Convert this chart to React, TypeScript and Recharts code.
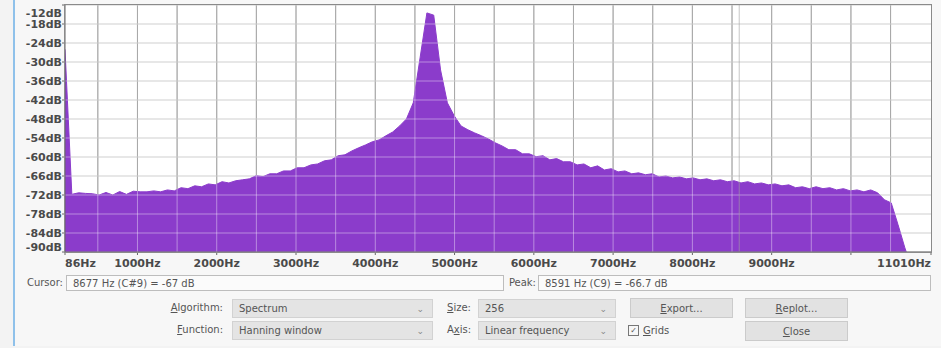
import React from 'react';
import { AreaChart, Area, XAxis, YAxis, CartesianGrid, ReferenceLine } from 'recharts';

// FFT size 256 at 22050 Hz -> one bin every 86.13 Hz
const binHz = 22050 / 256;

// level (dB) of bins 1..127
const levels = [
  -26.0, -71.8, -71.3, -71.5, -71.6, -72.0, -71.2, -72.0, -70.9, -71.8,
  -70.8, -71.0, -71.0, -70.7, -71.0, -70.4, -70.7, -69.7, -70.0, -69.1,
  -69.4, -68.5, -68.8, -67.8, -68.2, -67.5, -67.2, -66.9, -65.9, -66.2,
  -65.3, -65.3, -64.4, -64.4, -63.4, -63.4, -62.5, -62.2, -61.2, -60.9,
  -59.6, -59.3, -58.1, -57.1, -56.2, -55.2, -54.6, -53.3, -52.1, -50.2,
  -48.0, -42.9, -28.7, -14.5, -15.2, -32.5, -42.9, -47.0, -50.2, -51.4,
  -52.4, -53.3, -54.3, -55.5, -56.5, -57.7, -57.7, -59.0, -59.0, -59.9,
  -59.6, -60.9, -60.5, -61.5, -61.5, -62.5, -62.2, -63.4, -62.8, -64.1,
  -63.7, -64.7, -64.4, -65.3, -65.0, -65.6, -65.3, -66.3, -66.0, -66.6,
  -66.3, -66.9, -66.6, -67.2, -66.9, -67.5, -67.2, -67.8, -67.5, -68.2,
  -67.8, -68.5, -68.2, -68.8, -68.5, -69.1, -68.8, -69.7, -69.4, -70.0,
  -69.4, -70.0, -69.7, -70.4, -70.0, -70.7, -70.4, -71.0, -70.4, -71.3,
  -73.5, -74.5, -81.4, -88.7, -95.0, -98.0, -99.0,
];

const xTicks = [86, 1000, 2000, 3000, 4000, 5000, 6000, 7000, 8000, 9000, 10000, 11010];
const xTickLabels = ['86Hz', '1000Hz', '2000Hz', '3000Hz', '4000Hz', '5000Hz', '6000Hz', '7000Hz', '8000Hz', '9000Hz', '', '11010Hz'];
const yTicks = [-90, -84, -78, -72, -66, -60, -54, -48, -42, -36, -30, -24, -18, -12];
const gridHz = [500, 1000, 1500, 2000, 2500, 3000, 3500, 4000, 4500, 5000, 5500, 6000, 6500, 7000, 7500, 8000, 8500, 9000, 9500, 10000, 10500];
const peakHz = 8591;

const data = levels.map((db, i) => ({ hz: (i + 1) * binHz, db }));

const PURPLE = '#8b3ccb';
const axisFont = { fontFamily: 'DejaVu Sans', fontSize: 11, fontWeight: 'bold' as const, fill: '#4a4a4a' };
const uiFont = "'DejaVu Sans', sans-serif";

const XTick = (props: any) => {
  const { x, y, payload } = props;
  const idx = xTicks.indexOf(payload.value);
  const label = xTickLabels[idx] ?? '';
  let anchor: 'start' | 'middle' | 'end' = 'middle';
  if (idx === 0) anchor = 'start';
  if (idx === xTicks.length - 1) anchor = 'end';
  return (
    <text x={x} y={y + 10} textAnchor={anchor} {...axisFont}>
      {label}
    </text>
  );
};

const YTick = (props: any) => {
  const { x, y, payload } = props;
  const cy = Math.min(Math.max(y, 12.5), 247);
  return (
    <text x={x} y={cy + 4} textAnchor="end" {...axisFont}>
      {payload.value}dB
    </text>
  );
};

const Box = ({ left, top, width, height, children, style }: any) => (
  <div
    style={{
      position: 'absolute', left, top, width, height, boxSizing: 'border-box',
      fontFamily: uiFont, fontSize: 10, color: '#555', display: 'flex', alignItems: 'center',
      ...style,
    }}
  >
    {children}
  </div>
);

const Label = ({ right, top, children }: any) => (
  <div
    style={{
      position: 'absolute', right: 941 - right, top, fontFamily: uiFont, fontSize: 10,
      color: '#555', whiteSpace: 'nowrap',
    }}
  >
    {children}
  </div>
);

const Dropdown = ({ left, top, width, text }: any) => (
  <Box
    left={left} top={top} width={width} height={19}
    style={{ background: '#e4e4e4', border: '1px solid #d2d2d2', paddingLeft: 6, justifyContent: 'space-between', paddingRight: 8 }}
  >
    <span>{text}</span>
    <span style={{ color: '#888', fontSize: 9 }}>⌄</span>
  </Box>
);

const Button = ({ left, top, children }: any) => (
  <Box
    left={left} top={top} width={103} height={20}
    style={{ background: '#e2e2e2', border: '1px solid #cbcbcb', justifyContent: 'center' }}
  >
    {children}
  </Box>
);

const U = ({ children }: any) => <span style={{ textDecoration: 'underline' }}>{children}</span>;

export default function App() {
  return (
    <div style={{ position: 'absolute', left: 0, top: 0, width: 941, height: 348, background: '#f3f3f3', overflow: 'hidden' }}>
      <div style={{ position: 'absolute', left: 13, top: 0, width: 2, height: 346, background: '#8fc1ea' }} />
      <div style={{ position: 'absolute', left: 15, top: 0, width: 926, height: 346, background: '#f7f7f7' }} />
      <div style={{ position: 'absolute', left: 65, top: 5, width: 866, height: 247, background: '#ffffff' }} />

      <div style={{ position: 'absolute', left: 0, top: 0 }}>
        <AreaChart width={941} height={272} data={data} margin={{ top: 5, right: 10, bottom: 0, left: 0 }}>
          <CartesianGrid vertical={false} horizontalValues={yTicks} stroke="#c4c4c4" />
          <CartesianGrid horizontal={false} verticalValues={gridHz} stroke="#6e6e6e" />
          <XAxis
            dataKey="hz"
            type="number"
            domain={[86, 11010]}
            ticks={xTicks}
            interval={0}
            allowDataOverflow
            height={20}
            tickSize={3}
            tickMargin={2}
            stroke="#666"
            tick={<XTick />}
          />
          <YAxis
            type="number"
            domain={[-90, -12]}
            ticks={yTicks}
            interval={0}
            allowDataOverflow
            width={65}
            tickSize={3}
            tickMargin={0}
            stroke="#666"
            tick={<YTick />}
          />
          <Area
            type="linear"
            dataKey="db"
            baseValue="dataMin"
            stroke={PURPLE}
            strokeWidth={1}
            fill={PURPLE}
            fillOpacity={1}
            dot={false}
            activeDot={false}
            isAnimationActive={false}
          />
          {gridHz.map((hz) => (
            <ReferenceLine key={`v-${hz}`} x={hz} stroke="#ffffff" strokeOpacity={0.4} />
          ))}
          {yTicks.map((db) => (
            <ReferenceLine key={`h-${db}`} y={db} stroke="#ffffff" strokeOpacity={0.4} />
          ))}
          <ReferenceLine x={peakHz} stroke="#a0a0a0" strokeOpacity={0.6} />
        </AreaChart>
      </div>
      <div style={{ position: 'absolute', left: 64, top: 4, width: 868, height: 249, border: '1px solid #8a8a8a', boxSizing: 'border-box', pointerEvents: 'none' }} />

      <Label right={63} top={277}>Cursor:</Label>
      <Box left={66} top={275} width={438} height={16} style={{ background: '#fbfbfb', border: '1px solid #bdbdbd', paddingLeft: 6 }}>
        8677 Hz (C#9) = -67 dB
      </Box>
      <Label right={536} top={277}>Peak:</Label>
      <Box left={538} top={275} width={393} height={16} style={{ background: '#fbfbfb', border: '1px solid #bdbdbd', paddingLeft: 6 }}>
        8591 Hz (C9) = -66.7 dB
      </Box>

      <Label right={223} top={302}><U>A</U>lgorithm:</Label>
      <Dropdown left={232} top={299} width={201} text="Spectrum" />
      <Label right={471} top={302}><U>S</U>ize:</Label>
      <Dropdown left={478} top={299} width={138} text="256" />
      <Button left={630} top={298}><U>E</U>xport...</Button>
      <Button left={745} top={298}><U>R</U>eplot...</Button>

      <Label right={223} top={324}><U>F</U>unction:</Label>
      <Dropdown left={232} top={321} width={201} text="Hanning window" />
      <Label right={471} top={324}>A<U>x</U>is:</Label>
      <Dropdown left={478} top={321} width={138} text="Linear frequency" />
      <Box left={628} top={321} width={60} height={19}>
        <span style={{ display: 'inline-block', width: 9, height: 9, border: '1px solid #777', marginRight: 4, fontSize: 8, lineHeight: '9px', textAlign: 'center' }}>✓</span>
        <U>G</U>rids
      </Box>
      <Button left={745} top={321}><U>C</U>lose</Button>
    </div>
  );
}
